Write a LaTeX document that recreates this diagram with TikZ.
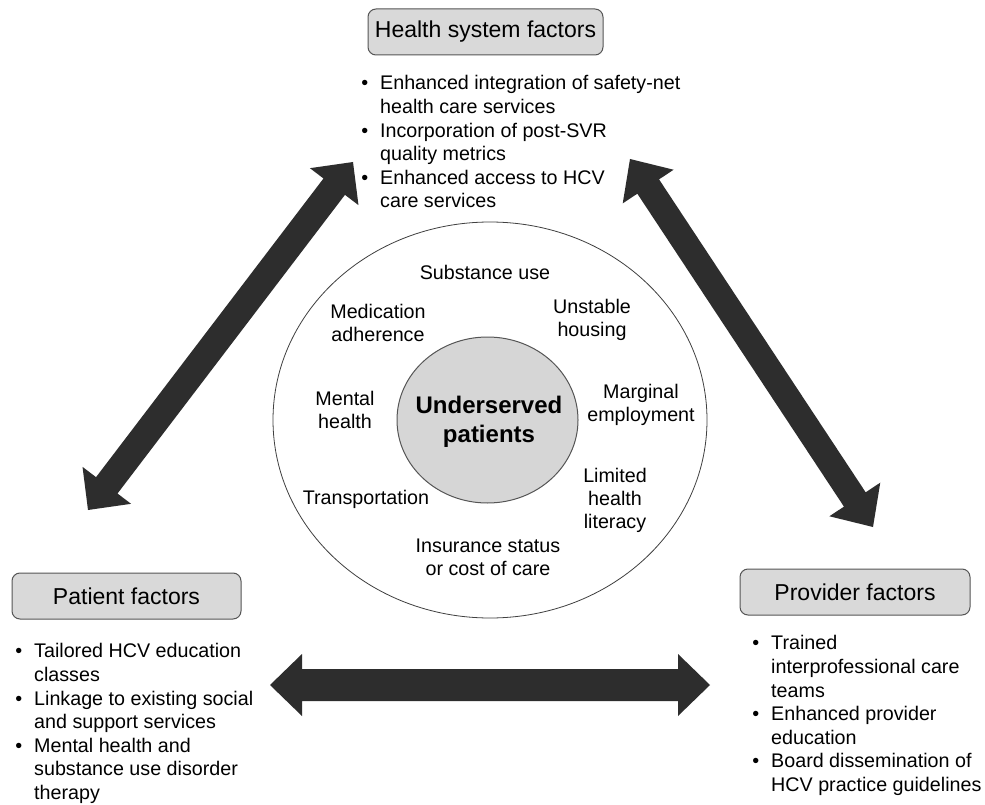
\documentclass[tikz,border=0pt]{standalone}
\usepackage{fontspec}
\setmainfont{Liberation Sans}
\usetikzlibrary{calc,shapes.geometric}
\definecolor{boxfill}{HTML}{D9D9D9}
\definecolor{corefill}{HTML}{D6D6D6}
\definecolor{arrowc}{HTML}{2D2D2D}
\definecolor{edgec}{HTML}{555555}
\newcommand\bul{\llap{\textbullet\hspace{12pt}}}
% double-headed block arrow between two named coordinates
% #1 start, #2 end, #3 head length, #4 head half width, #5 shaft half width
\newcommand\dblarrow[5]{%
  \fill[arrowc] (#1)
    -- ($(#1)!#3!(#2)!#4!90:(#2)$)
    -- ($(#1)!#3!(#2)!#5!90:(#2)$)
    -- ($(#2)!#3!(#1)!#5!-90:(#1)$)
    -- ($(#2)!#3!(#1)!#4!-90:(#1)$)
    -- (#2)
    -- ($(#2)!#3!(#1)!#4!90:(#1)$)
    -- ($(#2)!#3!(#1)!#5!90:(#1)$)
    -- ($(#1)!#3!(#2)!#5!-90:(#2)$)
    -- ($(#1)!#3!(#2)!#4!-90:(#2)$)
    -- cycle;}
\begin{document}
\begin{tikzpicture}[x=1pt,y=-1pt,
  titlebox/.style={draw=edgec, line width=1pt, fill=boxfill, rounded corners=8pt,
    minimum width=#1, minimum height=46pt, inner sep=0pt,
    font=\fontsize{23}{27}\selectfont},
  bullist/.style={anchor=north west, inner sep=0pt, align=left,
    font=\fontsize{19.7}{23.6}\selectfont},
  ringlabel/.style={inner sep=0pt, align=center, font=\fontsize{19.7}{23}\selectfont}]
\useasboundingbox[fill=white] (0,0) rectangle (985,805);

% circles
\node[draw=black!75, line width=0.8pt, ellipse, minimum width=434pt, minimum height=396pt, inner sep=0pt] (outer) at (490,420) {};
\node[draw=edgec, line width=1pt, fill=corefill, ellipse, minimum width=181pt, minimum height=166pt, inner sep=0pt] (core) at (487.5,420) {};
\node[inner sep=0pt, align=center, font=\fontsize{24}{29}\selectfont\bfseries] (coretext) at (489,422) {Underserved\\patients};

% ring labels
\node[ringlabel] (sub) at (485,272) {Substance use};
\node[ringlabel] (med) at (378,323) {Medication\\adherence};
\node[ringlabel] (hous) at (592,320) {Unstable\\housing};
\node[ringlabel] (ment) at (345,410) {Mental\\health};
\node[ringlabel] (marg) at (641,405) {Marginal\\employment};
\node[ringlabel] (trans) at (366,499) {Transportation};
\node[ringlabel] (lit) at (615,500) {Limited\\health\\literacy};
\node[ringlabel] (ins) at (488,557) {Insurance status\\or cost of care};

% title boxes
\node[titlebox=235pt] (hsys) at (485.5,32) {Health system factors};
\node[titlebox=229pt] (pat) at (126.5,596) {Patient factors};
\node[titlebox=230pt] (prov) at (855,592) {Provider factors};

% bullet lists
\node[bullist] (hsyslist) at (380,75.5) {\bul Enhanced integration of safety-net\\
health care services\\
\bul Incorporation of post-SVR\\
quality metrics\\
\bul Enhanced access to HCV\\
care services};
\node[bullist] (patlist) at (34,643.5) {\bul Tailored HCV education\\
classes\\
\bul Linkage to existing social\\
and support services\\
\bul Mental health and\\
substance use disorder\\
therapy};
\node[bullist] (provlist) at (771,635.5) {\bul Trained\\
interprofessional care\\
teams\\
\bul Enhanced provider\\
education\\
\bul Board dissemination of\\
HCV practice guidelines};

% arrow end points
\coordinate (lA) at (88,510);
\coordinate (lB) at (353,162);
\coordinate (rA) at (630,159);
\coordinate (rB) at (873,527);
\coordinate (hA) at (270,685);
\coordinate (hB) at (710,685);

\dblarrow{lA}{lB}{31pt}{30.5pt}{13.5pt}
\dblarrow{rA}{rB}{33pt}{30.5pt}{13pt}
\dblarrow{hA}{hB}{32pt}{31pt}{16pt}
\end{tikzpicture}
\end{document}
